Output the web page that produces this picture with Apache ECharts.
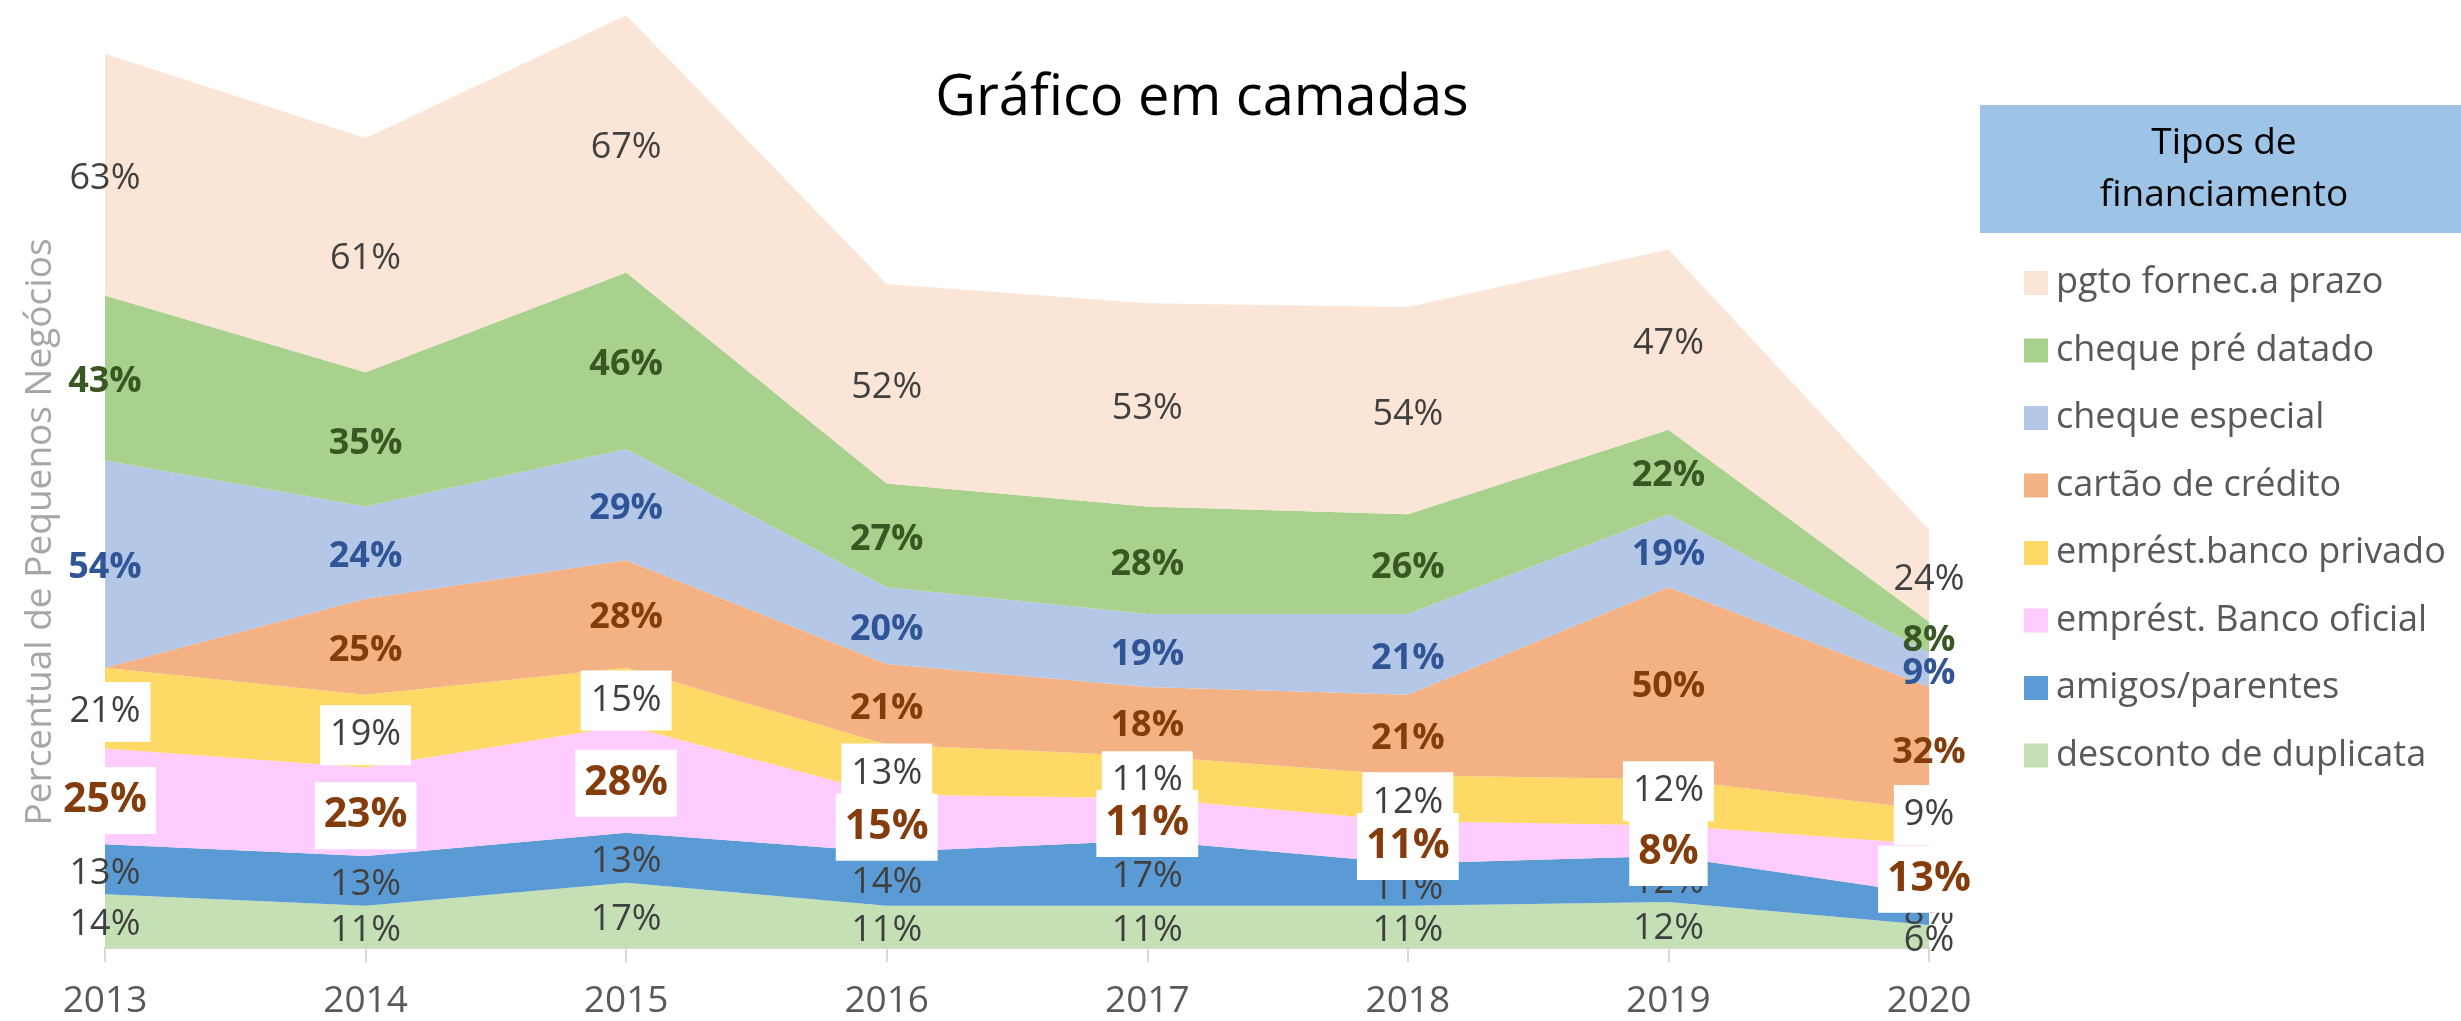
<!DOCTYPE html>
<html>
<head>
<meta charset="utf-8">
<title>Gráfico em camadas</title>
<script src="https://cdn.jsdelivr.net/npm/echarts@6/dist/echarts.min.js"></script>
<style>
    html, body { margin: 0; padding: 0; background: #fff; }
    #chart { width: 2461px; height: 1021px; }
</style>
</head>
<body>
<div id="chart"></div>
<script>
// dados (percentuais)
const anos = ['2013', '2014', '2015', '2016', '2017', '2018', '2019', '2020'];
const desconto = [14, 11, 17, 11, 11, 11, 12, 6];
const amigos = [13, 13, 13, 14, 17, 11, 12, 8];
const bancoOficial = [25, 23, 28, 15, 11, 11, 8, 13];
const bancoPrivado = [21, 19, 15, 13, 11, 12, 12, 9];
const cartao = [0, 25, 28, 21, 18, 21, 50, 32];
const chequeEspecial = [54, 24, 29, 20, 19, 21, 19, 9];
const chequePre = [43, 35, 46, 27, 28, 26, 22, 8];
const fornecedor = [63, 61, 67, 52, 53, 54, 47, 24];

const FONT = 'Open Sans';

const eCharts = echarts.init(document.getElementById('chart'));

// estilos dos rótulos
const lblNormal = {color: '#404040', fontSize: 36};
const lblCaixa = {color: '#404040', fontSize: 36, backgroundColor: '#fff', padding: [12, 10]};
const lblOficial = {color: '#843C0C', fontSize: 41, fontWeight: 'bold', backgroundColor: '#fff', padding: [13, 9]};
const lblVerde = {color: '#385723', fontSize: 36, fontWeight: 'bold'};
const lblAzul = {color: '#2F5597', fontSize: 36, fontWeight: 'bold'};
const lblMarrom = {color: '#843C0C', fontSize: 36, fontWeight: 'bold'};

// rótulos deslocados à mão no original (índice do ano -> deslocamento vertical)
const ajustes = {
    'emprést.banco privado': {6: -15, 7: -16},
    'emprést. Banco oficial': {6: 8, 7: 6}
};

// camadas, de baixo para cima
const camadas = [
    {name: 'desconto de duplicata', data: desconto, color: '#C5E0B4', label: lblNormal, z: 5},
    {name: 'amigos/parentes', data: amigos, color: '#5B9BD5', label: lblNormal, z: 5},
    {name: 'emprést. Banco oficial', data: bancoOficial, color: '#FFCCFF', label: lblOficial, z: 7},
    {name: 'emprést.banco privado', data: bancoPrivado, color: '#FFD966', label: lblCaixa, z: 6},
    {name: 'cartão de crédito', data: cartao, color: '#F4B183', label: lblMarrom, z: 5},
    {name: 'cheque especial', data: chequeEspecial, color: '#B4C7E7', label: lblAzul, z: 5},
    {name: 'cheque pré datado', data: chequePre, color: '#A9D18E', label: lblVerde, z: 5},
    {name: 'pgto fornec.a prazo', data: fornecedor, color: '#FBE5D6', label: lblNormal, z: 5}
];

// áreas empilhadas
const areas = camadas.map(c => ({
    name: c.name,
    type: 'line',
    stack: 'area',
    data: c.data,
    symbol: 'none',
    lineStyle: {width: 0},
    itemStyle: {color: c.color},
    areaStyle: {color: c.color, opacity: 1},
    emphasis: {disabled: true},
    z: 2
}));

// barras transparentes só para centrar os rótulos em cada camada
const rotulos = camadas.map(c => {
    const aj = ajustes[c.name] || {};
    return {
        name: c.name + ' (rótulo)',
        type: 'bar',
        stack: 'rotulo',
        data: c.data.map((v, i) => aj[i] !== undefined ? {value: v, label: {offset: [0, 4 + aj[i]]}} : v),
        barWidth: 2,
        silent: true,
        itemStyle: {color: 'rgba(0,0,0,0)'},
        label: Object.assign({
            show: true,
            position: 'inside',
            offset: [0, 4],
            fontFamily: FONT,
            formatter: p => p.value ? p.value + '%' : ''
        }, c.label),
        z: c.z
    };
});

eCharts.setOption({
    animation: false,
    backgroundColor: '#fff',
    title: {
        text: 'Gráfico em camadas',
        left: 1197,
        top: 66,
        textAlign: 'center',
        textStyle: {fontFamily: FONT, fontSize: 56, fontWeight: 'normal', color: '#000'}
    },
    legend: {
        data: camadas.map(c => c.name).reverse(),
        orient: 'vertical',
        left: 2019,
        top: 256,
        icon: 'rect',
        itemWidth: 24,
        itemHeight: 24,
        itemGap: 23.5,
        selectedMode: false,
        textStyle: {fontFamily: FONT, fontSize: 36, color: '#595959', lineHeight: 44, padding: [0, 0, 0, 3]}
    },
    grid: {left: 105, right: 532, top: 0, bottom: 73},
    xAxis: {
        type: 'category',
        data: anos,
        boundaryGap: false,
        axisLine: {lineStyle: {color: '#D9D9D9', width: 2}},
        axisTick: {show: true, length: 14, lineStyle: {color: '#D9D9D9', width: 2}},
        axisLabel: {fontFamily: FONT, fontSize: 37, color: '#595959', margin: 35}
    },
    yAxis: {
        type: 'value',
        min: 0,
        max: 247,
        axisLine: {show: false},
        axisTick: {show: false},
        axisLabel: {show: false},
        splitLine: {show: false}
    },
    graphic: [
        {
            type: 'text',
            x: 40,
            y: 532,
            rotation: Math.PI / 2,
            style: {
                text: 'Percentual de Pequenos Negócios',
                fontFamily: FONT,
                fontSize: 37,
                fill: '#A6A6A6',
                textAlign: 'center',
                textVerticalAlign: 'middle'
            }
        },
        {
            type: 'rect',
            left: 1980,
            top: 105,
            shape: {width: 481, height: 128},
            style: {fill: '#9DC3E6'}
        },
        {
            type: 'text',
            x: 2224,
            y: 169,
            style: {
                text: 'Tipos de\nfinanciamento',
                fontFamily: FONT,
                fontSize: 37,
                lineHeight: 52,
                fill: '#000',
                textAlign: 'center',
                textVerticalAlign: 'middle'
            }
        }
    ],
    series: areas.concat(rotulos)
});
</script>
</body>
</html>
